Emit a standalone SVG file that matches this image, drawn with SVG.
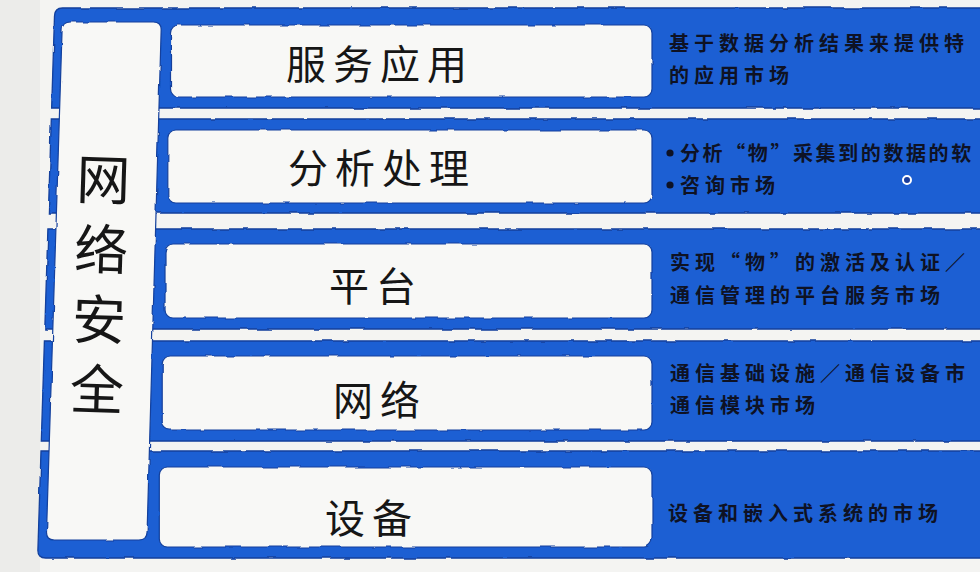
<svg xmlns="http://www.w3.org/2000/svg" width="980" height="572" viewBox="0 0 980 572">
<defs>
<filter id="rough" x="-2%" y="-10%" width="104%" height="120%">
<feTurbulence type="fractalNoise" baseFrequency="0.05" numOctaves="2" seed="4"/>
<feDisplacementMap in="SourceGraphic" scale="3"/>
</filter>
<style>
.band{fill:#1c5fd3;stroke:#123f9c;stroke-width:1.3}
.box{fill:#f8f8f6;stroke:#123f9c;stroke-width:1.2}
.col{fill:#f8f8f6;stroke:#123f9c;stroke-width:1.2}
.lbl{font-family:"Noto Sans CJK SC","Noto Sans",sans-serif;font-size:40px;fill:#161616;letter-spacing:7px;text-anchor:middle}
.big{font-family:"Noto Sans CJK SC","Noto Sans",sans-serif;font-size:54px;fill:#161616;letter-spacing:16px}
.desc{font-family:"Noto Sans CJK SC","Noto Sans",sans-serif;font-size:20px;font-weight:700;fill:#0e1224;letter-spacing:5px}
.tight{letter-spacing:2.6px}
</style>
</defs>
<rect x="0" y="0" width="980" height="572" fill="#f4f4f2"/>
<rect x="0" y="0" width="40" height="572" fill="#ececea"/>

<g id="bands" filter="url(#rough)">
<path class="band" d="M62.5 8 H985 V108 H51.65 L54.5 16 Q54.75 8 62.5 8 Z"/>
<path class="band" d="M51.3 119 H985 V213 H48.4 Z"/>
<path class="band" d="M47.9 229 H985 V329 H44.8 Z"/>
<path class="band" d="M44.4 341 H985 V441 H41.3 Z"/>
<path class="band" d="M41 451 H985 V558 H45.7 Q37.7 558 37.9 550 Z"/>
</g>

<g id="network-security">
<path class="col" filter="url(#rough)" d="M70.32 22 H153.38 Q161.38 22 161.16 30 L147.10 532 Q146.88 540 138.88 540 H54.26 Q46.26 540 46.51 532 L62.07 30 Q62.32 22 70.32 22 Z"/>
<text class="big" writing-mode="vertical-rl" x="100" y="152" transform="rotate(1.8 100 290)">网络安全</text>
</g>

<g id="service-app">
<rect class="box" filter="url(#rough)" x="170.5" y="25" width="481.5" height="72" rx="8"/>
<text class="lbl" x="380" y="78.5">服务应用</text>
<text class="desc" x="669" y="50.5">基于数据分析结果来提供特</text>
<text class="desc" x="669" y="82.5">的应用市场</text>
</g>

<g id="analysis">
<rect class="box" filter="url(#rough)" x="167.8" y="130" width="484.2" height="73" rx="8"/>
<text class="lbl" x="382" y="183">分析处理</text>
<circle cx="670" cy="153" r="3.6" fill="#0e1224"/>
<circle cx="670" cy="185" r="3.6" fill="#0e1224"/>
<text class="desc tight" x="680" y="160.5">分析“物”采集到的数据的软</text>
<text class="desc" x="680" y="192.5">咨询市场</text>
<circle cx="907" cy="180" r="4" fill="#1a3d9c" stroke="#ffffff" stroke-width="2"/>
</g>

<g id="platform">
<rect class="box" filter="url(#rough)" x="165" y="244" width="487" height="74" rx="8"/>
<text class="lbl" x="376" y="301">平台</text>
<text class="desc" x="670" y="269.5">实现“物”的激活及认证／</text>
<text class="desc" x="670" y="302.5">通信管理的平台服务市场</text>
</g>

<g id="network">
<rect class="box" filter="url(#rough)" x="162.2" y="356" width="489.8" height="74" rx="8"/>
<text class="lbl" x="380" y="415">网络</text>
<text class="desc" x="670" y="380.5">通信基础设施／通信设备市</text>
<text class="desc" x="670" y="412.5">通信模块市场</text>
</g>

<g id="device">
<rect class="box" filter="url(#rough)" x="159.3" y="467" width="492.7" height="80" rx="8"/>
<text class="lbl" x="372" y="533">设备</text>
<text class="desc" x="668" y="520.5">设备和嵌入式系统的市场</text>
</g>

<g id="connectors"/>
</svg>
